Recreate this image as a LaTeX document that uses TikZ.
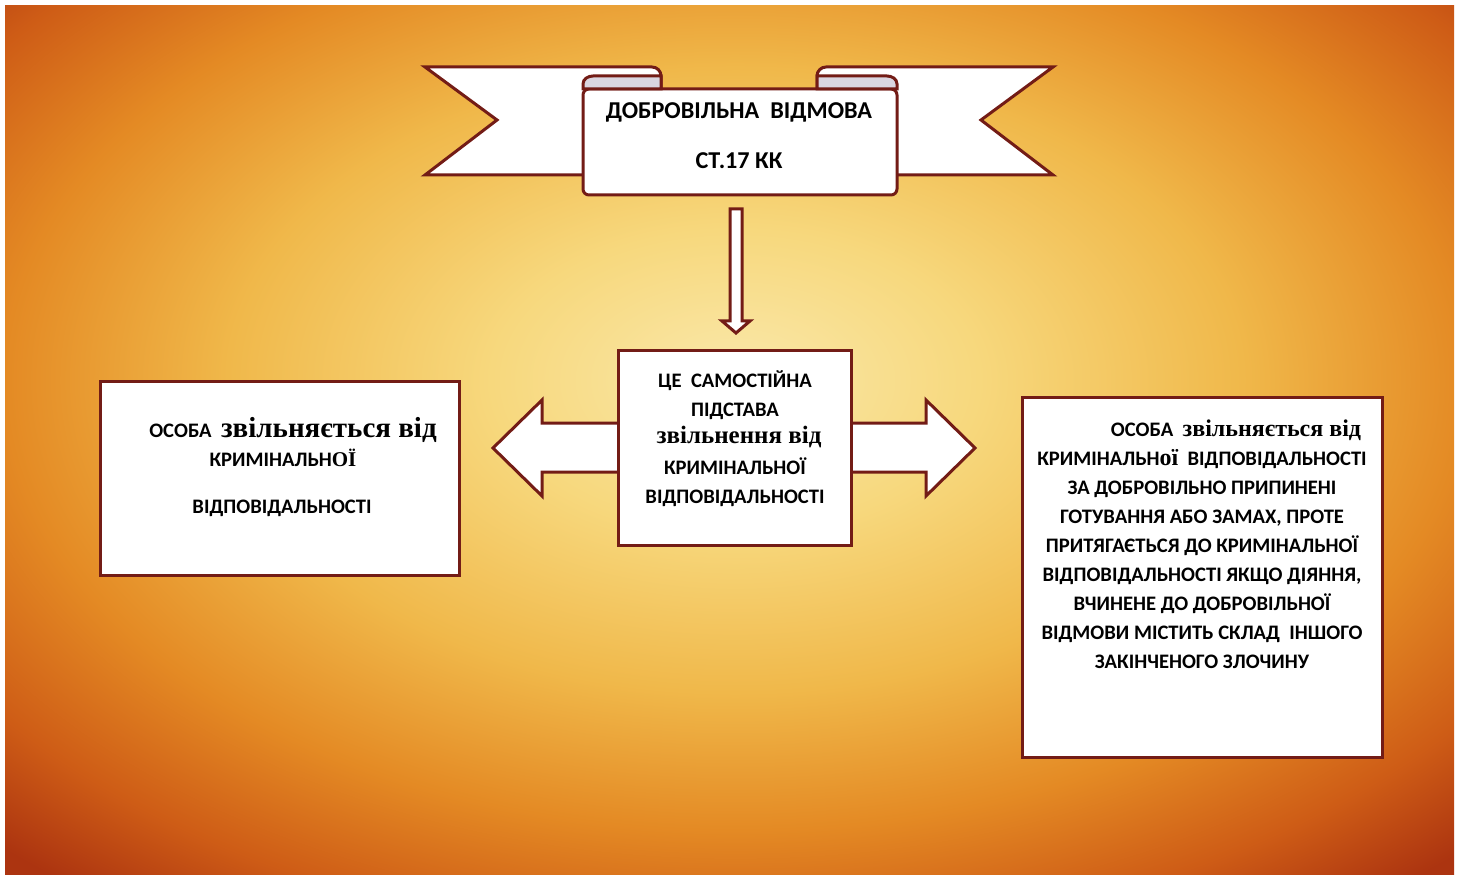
\documentclass[tikz,border=0pt]{standalone}
\usepackage{fontspec}
\setmainfont{Carlito}
\newfontfamily\lowserif{Liberation Serif}
\usetikzlibrary{positioning}

\definecolor{ribred}{RGB}{115,28,22}
\definecolor{rollgrey}{RGB}{218,214,224}
\definecolor{bgA}{RGB}{250,232,170}
\definecolor{bgB}{RGB}{247,216,125}
\definecolor{bgC}{RGB}{240,184,74}
\definecolor{bgD}{RGB}{228,138,36}
\definecolor{bgE}{RGB}{206,92,22}
\definecolor{bgF}{RGB}{172,52,16}

\pgfdeclareradialshading{parchment}{\pgfpoint{0bp}{0bp}}{color(0bp)=(bgA); color(6bp)=(bgB); color(12.5bp)=(bgC); color(18bp)=(bgD); color(22.5bp)=(bgE); color(26bp)=(bgF); color(50bp)=(bgF)}

\tikzset{
  rib/.style={draw=ribred, line width=1.5pt, fill=white, line join=miter},
  box/.style={rib, rectangle, inner sep=0pt},
  caps/.style={font=\bfseries\fontsize{#1}{#1}\selectfont, text=black, inner sep=0pt, anchor=base},
  caps/.default=10.3
}
\newcommand{\low}[1]{{\lowserif\bfseries #1}}

\begin{document}
\begin{tikzpicture}[x=0.5pt, y=0.5pt]

% background
\fill[white] (0,0) rectangle (1460,874);
\begin{scope}
\clip (5,0) rectangle (1454,868);
\shade[shading=parchment] (-280,-131) rectangle (1750,1119);
\end{scope}

% banner
\draw[rib] (425,807) -- (652,807) to[out=0,in=90] (661,798) -- (661,699) -- (425,699) -- (497,754) -- cycle;
\draw[rib] (1053,807) -- (826,807) to[out=180,in=90] (817,798) -- (817,699) -- (1053,699) -- (981,754) -- cycle;
\draw[rib, rounded corners=3pt] (583,785) -- (583,679) -- (897,679) -- (897,785) -- cycle;
\draw[rib, fill=rollgrey] (661,798) -- (593,798) to[out=180,in=90] (583,790) -- (583,785) -- (661,785) -- cycle;
\draw[rib, fill=rollgrey] (817,798) -- (887,798) to[out=0,in=90] (897,790) -- (897,785) -- (817,785) -- cycle;
\node[caps=12.1] (title) at (739,755) {ДОБРОВІЛЬНА\ \ ВІДМОВА};
\node[caps=12.1] (article) at (739,705) {СТ.17 КК};

% arrows
\draw[rib] (730,665) -- (742,665) -- (742,553) -- (750,553) -- (736,541) -- (722,553) -- (730,553) -- cycle;
\draw[rib] (493,426) -- (542,474) -- (542,451) -- (926,451) -- (926,474) -- (975,426)
  -- (926,378) -- (926,402) -- (542,402) -- (542,378) -- cycle;

% boxes
\node[box, minimum width=179.5pt, minimum height=97pt] (left) at (279.5,396) {};
\node[box, minimum width=116.5pt, minimum height=97pt] (mid) at (734.5,426) {};
\node[box, minimum width=180pt, minimum height=180pt] (right) at (1202,297) {};

% centre text
\node[caps] (m1) at (735,487) {ЦЕ\ \ САМОСТІЙНА};
\node[caps] (m2) at (735,458) {ПІДСТАВА};
\node[caps] (m3) at (739,431) {\fontsize{12.5}{12.5}\selectfont\low{звільнення від}};
\node[caps] (m4) at (735,400) {КРИМІНАЛЬНОЇ};
\node[caps] (m5) at (735,371) {ВІДПОВІДАЛЬНОСТІ};

% left text
\node[caps] (l1) at (293,437) {ОСОБА\ \ {\fontsize{14.5}{14.5}\selectfont\low{звільняється від}}};
\node[caps] (l2) at (283,408) {КРИМІНАЛЬН{\fontsize{10.5}{10.5}\selectfont\low{ОЇ}}};
\node[caps] (l3) at (282,361) {ВІДПОВІДАЛЬНОСТІ};

% right text
\node[caps] (r1) at (1236,438) {ОСОБА\ \ {\fontsize{12}{12}\selectfont\low{звільняється від}}};
\node[caps] (r2) at (1202,409) {КРИМІНАЛЬН{\fontsize{12}{12}\selectfont\low{ої}}\ \ ВІДПОВІДАЛЬНОСТІ};
\foreach \t [count=\i from 3] in {ЗА ДОБРОВІЛЬНО ПРИПИНЕНІ, {ГОТУВАННЯ АБО ЗАМАХ, ПРОТЕ}, ПРИТЯГАЄТЬСЯ ДО КРИМІНАЛЬНОЇ, {ВІДПОВІДАЛЬНОСТІ ЯКЩО ДІЯННЯ,}, ВЧИНЕНЕ ДО ДОБРОВІЛЬНОЇ, ВІДМОВИ МІСТИТЬ СКЛАД\ \ ІНШОГО, ЗАКІНЧЕНОГО ЗЛОЧИНУ}
  \node[caps] (r\i) at (1202,438-29*\i+29) {\t};

\end{tikzpicture}
\end{document}
